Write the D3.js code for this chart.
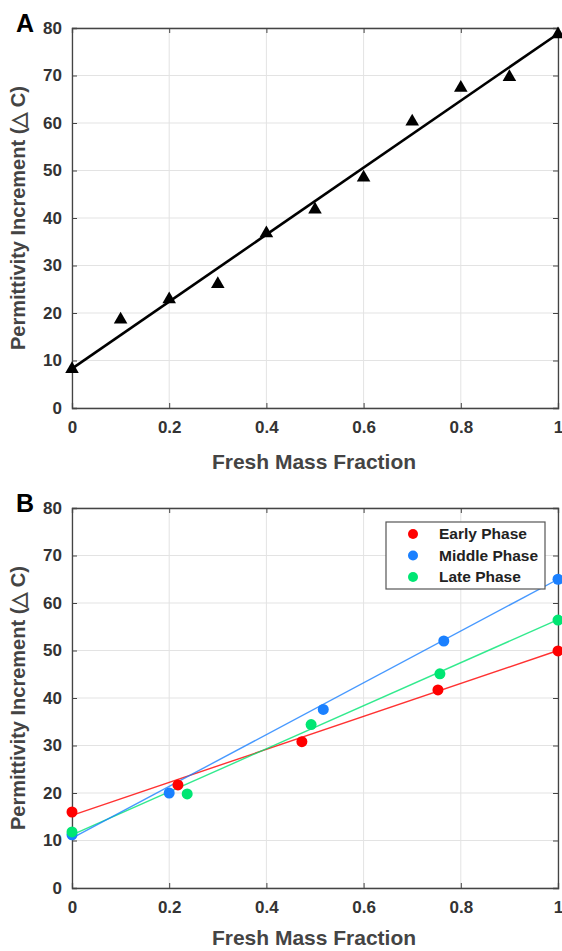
<!DOCTYPE html>
<html><head><meta charset="utf-8">
<script src="https://cdn.jsdelivr.net/npm/d3@7"></script>
<style>body{margin:0;background:#fff}svg{display:block}</style>
</head><body>
<svg id="c" width="562" height="951"></svg>
<script>
// Panel A data
const fractionA = [0,0.1,0.2,0.3,0.4,0.5,0.6,0.7,0.8,0.9,1.0];
const incrementA = [8.4,18.8,23.1,26.3,37.0,42.0,48.7,60.5,67.6,69.9,78.9];
const fitA = [8.3,78.8]; // fitted line values at x=0 and x=1

// Panel B data
const phaseNames = ["Early Phase","Middle Phase","Late Phase"];
const phaseColors = ["#ff0000","#1a80ff","#00e673"];
const earlyX = [0,0.218,0.473,0.753,1.0];
const earlyY = [16.0,21.7,30.8,41.7,49.9];
const middleX = [0,0.200,0.517,0.765,1.0];
const middleY = [11.2,20.0,37.6,52.0,65.0];
const lateX = [0,0.237,0.492,0.757,1.0];
const lateY = [11.8,19.8,34.4,45.1,56.4];
const earlyFit = [15.3,50.0];
const middleFit = [10.5,65.0];
const lateFit = [11.2,56.5];

const xTicks = [0,0.2,0.4,0.6,0.8,1];
const yTicks = [0,10,20,30,40,50,60,70,80];

const FONT = "Liberation Sans, Arial, sans-serif";
const svg = d3.select("#c");
const L = 72, R = 558;
const x = d3.scaleLinear().domain([0,1]).range([L,R]);

function panel(top, letter, titleOffset){
  const bottom = top + 380;
  const y = d3.scaleLinear().domain([0,80]).range([bottom, top]);
  const g = svg.append("g");
  // grid
  g.selectAll(".gx").data(xTicks).join("line")
    .attr("x1",d=>x(d)).attr("x2",d=>x(d)).attr("y1",top).attr("y2",bottom)
    .attr("stroke","#e3e3e3").attr("stroke-width",1);
  g.selectAll(".gy").data(yTicks).join("line")
    .attr("x1",L).attr("x2",R).attr("y1",d=>y(d)).attr("y2",d=>y(d))
    .attr("stroke","#e3e3e3").attr("stroke-width",1);
  // axes (inward ticks)
  const ax = g.append("g").attr("transform",`translate(0,${bottom})`)
    .call(d3.axisBottom(x).tickValues(xTicks).tickSize(-5).tickPadding(13).tickFormat(d=>d===0?"0":(d===1?"1":d3.format(".1f")(d))));
  const axT = g.append("g").attr("transform",`translate(0,${top})`)
    .call(d3.axisTop(x).tickValues(xTicks).tickSize(-5).tickFormat(""));
  const ay = g.append("g").attr("transform",`translate(${L},0)`)
    .call(d3.axisLeft(y).tickValues(yTicks).tickSize(-5).tickPadding(10));
  const ayR = g.append("g").attr("transform",`translate(${R},0)`)
    .call(d3.axisRight(y).tickValues(yTicks).tickSize(-5).tickFormat(""));
  [ax,axT,ay,ayR].forEach(a=>{
    a.select(".domain").attr("stroke","#444").attr("stroke-width",1.3);
    a.selectAll(".tick line").attr("stroke","#444");
    a.selectAll("text").attr("font-family",FONT)
      .attr("font-weight","bold").attr("font-size","17px").attr("fill","#333");
  });
  ax.selectAll("text").attr("dy","0.71em");
  // titles
  g.append("text").attr("x",314).attr("y",bottom+titleOffset)
    .attr("text-anchor","middle").attr("font-family",FONT)
    .attr("font-weight","bold").attr("font-size","21px").attr("fill","#444")
    .text("Fresh Mass Fraction");
  g.append("text").attr("transform",`translate(25,${(top+bottom)/2}) rotate(-90)`)
    .attr("text-anchor","middle").attr("font-family",FONT)
    .attr("font-weight","bold").attr("font-size","20px").attr("fill","#444")
    .text("Permittivity Increment (\u25B3 C)");
  g.append("text").attr("x",16).attr("y",top+4)
    .attr("font-family",FONT)
    .attr("font-weight","bold").attr("font-size","25px").attr("fill","#000")
    .text(letter);
  return {g,y};
}

// Panel A
const A = panel(28,"A",61);
A.g.append("line").attr("x1",x(0)).attr("x2",x(1)).attr("y1",A.y(fitA[0])).attr("y2",A.y(fitA[1]))
  .attr("stroke","#000").attr("stroke-width",2.6);
const tri = d3.symbol().type(d3.symbolTriangle).size(80);
A.g.selectAll(".tri").data(fractionA).join("path")
  .attr("d",tri).attr("transform",(d,i)=>`translate(${x(d)},${A.y(incrementA[i])+1})`)
  .attr("fill","#000");

// Panel B
const B = panel(508,"B",57);
const xs=[earlyX,middleX,lateX], ys=[earlyY,middleY,lateY], fits=[earlyFit,middleFit,lateFit];
[0,2,1].forEach(k=>{
  B.g.append("line").attr("x1",x(0)).attr("x2",x(1)).attr("y1",B.y(fits[k][0])).attr("y2",B.y(fits[k][1]))
    .attr("stroke",phaseColors[k]).attr("stroke-width",1.4).attr("opacity",0.8);
});
[0,1,2].forEach(k=>{
  B.g.selectAll(".p"+k).data(xs[k]).join("circle")
    .attr("cx",d=>x(d)).attr("cy",(d,i)=>B.y(ys[k][i])).attr("r",5.5).attr("fill",phaseColors[k]);
});
// legend
const lg = B.g.append("g");
lg.append("rect").attr("x",386).attr("y",522).attr("width",159).attr("height",67)
  .attr("fill","#fff").attr("stroke","#555").attr("stroke-width",1.2);
phaseNames.forEach((n,k)=>{
  lg.append("circle").attr("cx",413).attr("cy",534+k*21.5).attr("r",5).attr("fill",phaseColors[k]);
  lg.append("text").attr("x",439).attr("y",534+k*21.5).attr("dy","0.35em")
    .attr("font-family",FONT).attr("font-weight","bold")
    .attr("font-size","15.5px").attr("fill","#222").text(n);
});
</script>
</body></html>
